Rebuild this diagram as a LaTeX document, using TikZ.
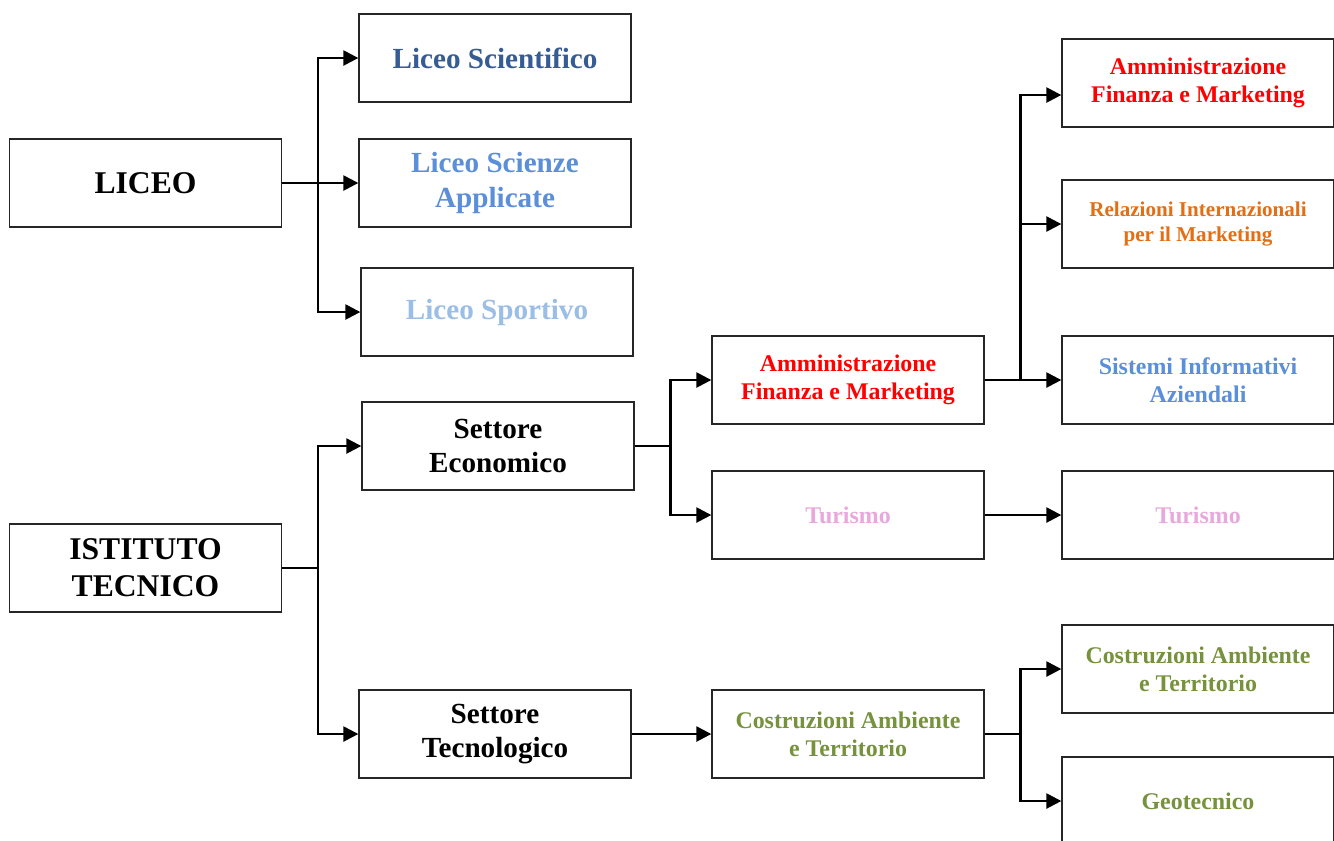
\documentclass[tikz,border=0pt]{standalone}
\usepackage{fontspec}
\setmainfont{Liberation Serif}
\usetikzlibrary{arrows.meta}

\definecolor{sciblue}{RGB}{54,92,148}
\definecolor{appblue}{RGB}{91,143,217}
\definecolor{sportblue}{RGB}{155,190,230}
\definecolor{afmred}{RGB}{255,0,0}
\definecolor{rimorange}{RGB}{228,110,20}
\definecolor{turpink}{RGB}{233,168,221}
\definecolor{catgreen}{RGB}{118,146,60}

\begin{document}
\begin{tikzpicture}[x=0.02cm,y=-0.02cm,
>={Triangle[length=0.3cm,width=0.3cm]},
box/.style={draw=black!85,line width=0.8pt,minimum width=5.44cm,
minimum height=1.76cm,align=center,inner sep=1pt},
big/.style={box,font=\fontsize{18}{21}\selectfont\bfseries},
mid/.style={box,font=\fontsize{16.6}{19.4}\selectfont\bfseries},
small/.style={box,font=\fontsize{13.6}{16}\selectfont\bfseries},
tiny/.style={box,font=\fontsize{12}{14.2}\selectfont\bfseries},
link/.style={->,line width=1.4pt},
elbow/.style={to path={-- ++(36,0) |- (\tikztotarget)}}]
\useasboundingbox (0,0) rectangle (1334,840);
\fill[white] (0,0) rectangle (1334,840);
\clip (0,0) rectangle (1334,840);

% first column
\node[big] (liceo) at (145.5,183) {LICEO};
\node[big] (itec) at (145.5,568) {ISTITUTO\\TECNICO};
% second column
\node[mid,text=sciblue] (lsci) at (495,58) {Liceo Scientifico};
\node[mid,text=appblue] (lapp) at (495,183) {Liceo Scienze\\Applicate};
\node[mid,text=sportblue] (lspo) at (497,312) {Liceo Sportivo};
\node[mid] (seco) at (498,446) {Settore\\Economico};
\node[mid] (stec) at (495,734) {Settore\\Tecnologico};
% third column
\node[small,text=afmred] (afm) at (848,380) {Amministrazione\\Finanza e Marketing};
\node[small,text=turpink] (tur) at (848,515) {Turismo};
\node[small,text=catgreen] (cat) at (848,734) {Costruzioni Ambiente\\e Territorio};
% fourth column
\node[small,text=afmred] (afmR) at (1198,83) {Amministrazione\\Finanza e Marketing};
\node[tiny,text=rimorange] (rim) at (1198,224) {Relazioni Internazionali\\per il Marketing};
\node[small,text=appblue] (sia) at (1198,380) {Sistemi Informativi\\Aziendali};
\node[small,text=turpink] (turR) at (1198,515) {Turismo};
\node[small,text=catgreen] (catR) at (1198,669) {Costruzioni Ambiente\\e Territorio};
\node[small,text=catgreen] (geo) at (1198,801) {Geotecnico};

\path[link] (liceo.east) edge[elbow] (lsci.west) edge[elbow] (lapp.west) edge[elbow] (lspo.west);
\path[link] (itec.east) edge[elbow] (seco.west) edge[elbow] (stec.west);
\path[link] (seco.east) edge[elbow] (afm.west) edge[elbow] (tur.west);
\path[link] (afm.east) edge[elbow] ([yshift=-0.24cm]afmR.west) edge[elbow] (rim.west) edge[elbow] (sia.west);
\path[link] (tur.east) edge (turR.west);
\path[link] (stec.east) edge (cat.west);
\path[link] (cat.east) edge[elbow] (catR.west) edge[elbow] (geo.west);
\end{tikzpicture}
\end{document}
